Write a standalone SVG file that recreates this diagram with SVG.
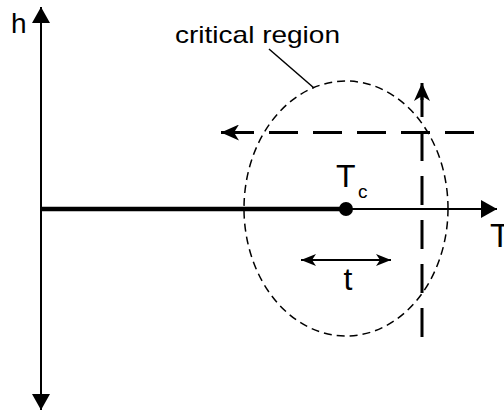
<svg xmlns="http://www.w3.org/2000/svg" width="504" height="411" viewBox="0 0 504 411">
<style>
text{font-family:"Liberation Sans",Arial,sans-serif;fill:#000}
.ax{stroke:#000;fill:none}
.bd{stroke:#000;stroke-width:3;stroke-dasharray:29 15;fill:none}
.el{stroke:#000;stroke-width:1.5;stroke-dasharray:8 5;fill:none}
</style>
<defs>
<marker id="tri" markerWidth="16" markerHeight="18" refX="16" refY="9" orient="auto" markerUnits="userSpaceOnUse">
<path d="M0,0 L16,9 L0,18 Z" fill="#000"/>
</marker>
<marker id="bar" markerWidth="18" markerHeight="16" refX="18" refY="8" orient="auto" markerUnits="userSpaceOnUse">
<path d="M0,0 L18,8 L0,16 L5,8 Z" fill="#000"/>
</marker>
<marker id="sm" markerWidth="15" markerHeight="12" refX="15" refY="6" orient="auto" markerUnits="userSpaceOnUse">
<path d="M0,0 L15,6 L0,12 L4,6 Z" fill="#000"/>
</marker>
<marker id="sms" markerWidth="15" markerHeight="12" refX="0" refY="6" orient="auto" markerUnits="userSpaceOnUse">
<path d="M15,0 L0,6 L15,12 L11,6 Z" fill="#000"/>
</marker>
</defs>
<g id="connectors">
<line class="ax" x1="41" y1="26" x2="41" y2="7" stroke-width="2" marker-end="url(#tri)"/>
<line class="ax" x1="41" y1="209" x2="41" y2="26" stroke-width="2"/>
<line class="ax" x1="41" y1="209" x2="41" y2="410" stroke-width="2" marker-end="url(#tri)"/>
<line class="ax" x1="41" y1="209" x2="346" y2="209" stroke-width="4.5"/>
<line class="ax" x1="346" y1="209" x2="497" y2="209" stroke-width="2" marker-end="url(#tri)"/>
<line class="ax" x1="301" y1="260" x2="391" y2="260" stroke-width="2" marker-start="url(#sms)" marker-end="url(#sm)"/>
<line class="ax" x1="269" y1="49" x2="314" y2="88" stroke-width="1.5"/>
<path class="bd" d="M474,132.5 L224,132.5"/>
<line class="ax" x1="238" y1="132.5" x2="221" y2="132.5" stroke-width="3" marker-end="url(#bar)"/>
<path class="bd" d="M422,337 L422,86"/>
<line class="ax" x1="422" y1="100" x2="422" y2="83" stroke-width="3" marker-end="url(#bar)"/>
</g>
<g id="critical-region">
<ellipse class="el" cx="346" cy="208.5" rx="102" ry="127.5"/>
</g>
<g id="tc">
<circle cx="346" cy="209" r="7" fill="#000"/>
<text x="336" y="187" font-size="32">T</text>
<text x="358" y="198" font-size="19">c</text>
</g>
<g id="labels">
<text x="11" y="33" font-size="28">h</text>
<text x="175" y="43" font-size="24" textLength="165" lengthAdjust="spacingAndGlyphs">critical region</text>
<text x="348" y="290" font-size="32" text-anchor="middle">t</text>
<text x="490" y="247" font-size="33">T</text>
</g>
</svg>
